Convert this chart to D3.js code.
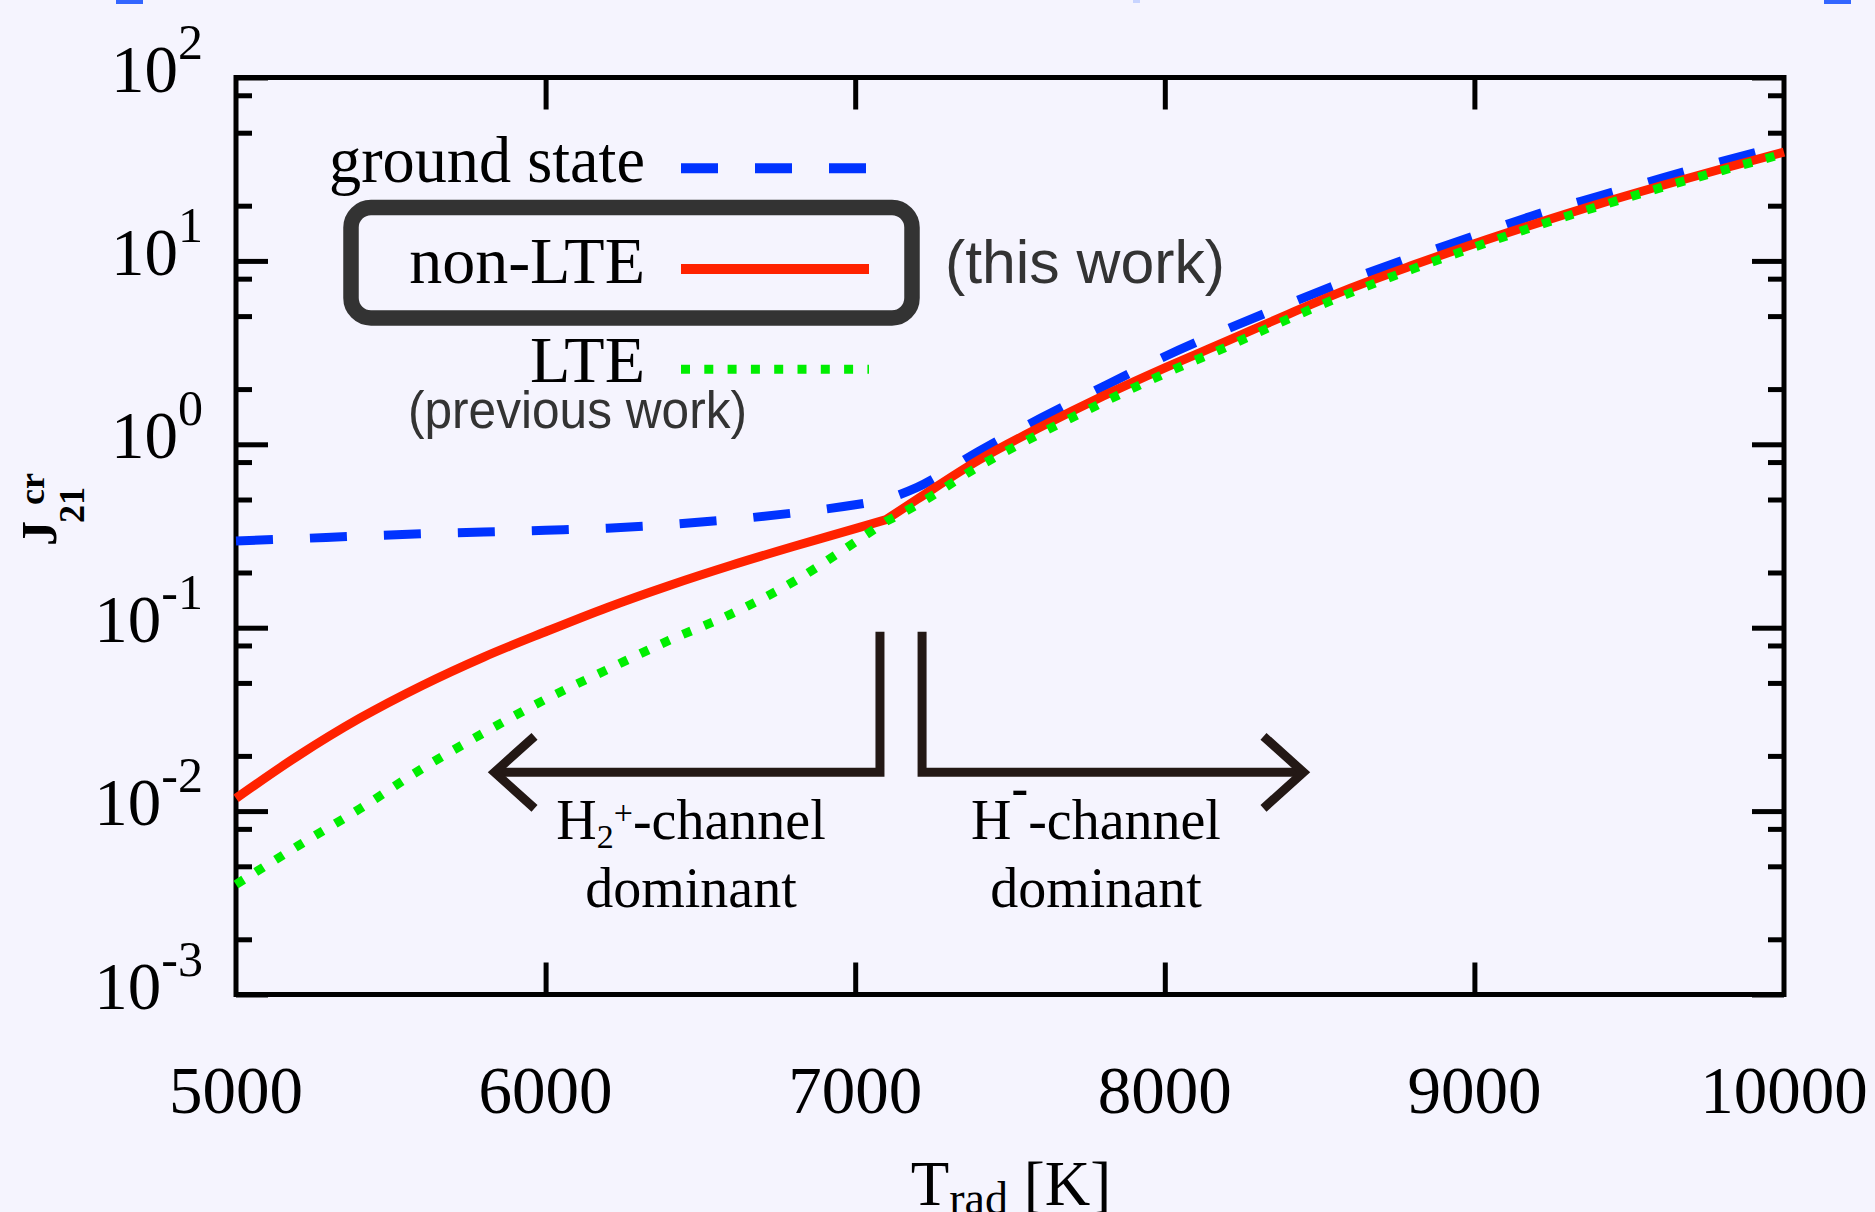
<!DOCTYPE html>
<html>
<head>
<meta charset="utf-8">
<script src="https://cdn.jsdelivr.net/npm/d3@7.9.0/dist/d3.min.js"></script>
<style>
  html, body { margin: 0; padding: 0; background: #f5f4fe; overflow: hidden; }
  svg { display: block; }
  text { font-family: "Liberation Serif", "Times New Roman", serif; fill: #000; }
  .sans { font-family: "Liberation Sans", Arial, sans-serif; fill: #333; }
</style>
</head>
<body>
<svg id="chart" width="1875" height="1212"></svg>
<script>
// radiation temperature [K]
const temps = [5000, 5200, 5400, 5600, 5800, 6000, 6200, 6400, 6600, 6800, 7000, 7100, 7200,
  7400, 7600, 7800, 8000, 8200, 8400, 8600, 8800, 9000, 9200, 9400, 9600, 9800, 10000];

// J21 critical values
const groundState = [0.297, 0.306, 0.316, 0.325, 0.332, 0.340, 0.349, 0.365, 0.389, 0.422, 0.468, 0.500, 0.582,
  0.918, 1.39, 2.06, 3.01, 4.24, 5.83, 7.93, 10.5, 13.7, 17.9, 22.5, 28.1, 34.9, 42.7];
const nonLTE = [0.01175, 0.0200, 0.0321, 0.0483, 0.0692, 0.0951, 0.129, 0.170, 0.219, 0.277, 0.347, 0.389, 0.501,
  0.822, 1.245, 1.83, 2.61, 3.65, 5.13, 7.10, 9.46, 12.4, 16.0, 20.4, 25.6, 31.8, 39.2];
const lte = [0.00398, 0.00646, 0.0103, 0.0170, 0.0267, 0.0407, 0.0592, 0.0855, 0.119, 0.178, 0.293, 0.380, 0.468,
  0.759, 1.15, 1.69, 2.43, 3.40, 4.83, 6.71, 9.02, 11.9, 15.5, 19.8, 25.0, 31.1, 38.4];

const xTicks = [5000, 6000, 7000, 8000, 9000, 10000];
const yExponents = [-3, -2, -1, 0, 1, 2];
const minorMantissas = [2, 5, 8];

// temperature where the curves break, channel boundary bars and arrow tips
const kinkT = 7100;
const channelSplit = [7080, 7216];
const arrowEnds = [5835, 8448];

const svg = d3.select("#chart");
const W = 1875, H = 1212;
const plotLeft = 236, plotRight = 1784, plotTop = 77.5, plotBottom = 994.5;

svg.append("rect").attr("width", W).attr("height", H).attr("fill", "#f5f4fe");

// little blue scraps along the top edge of the original
[[116, 27], [1824, 27]].forEach(([x0, w]) => {
  svg.append("rect").attr("x", x0).attr("y", 0).attr("width", w).attr("height", 4).attr("fill", "#3366ff");
});
svg.append("rect").attr("x", 1133).attr("y", 0).attr("width", 7).attr("height", 3).attr("fill", "#c8d4ff");

const x = d3.scaleLinear().domain([5000, 10000]).range([plotLeft, plotRight]);
const y = d3.scaleLog().domain([1e-3, 1e2]).range([plotBottom, plotTop]);

const majorY = yExponents.map(e => Math.pow(10, e));
const minorY = [];
yExponents.slice(0, -1).forEach(e => minorMantissas.forEach(m => minorY.push(m * Math.pow(10, e))));
const innerX = xTicks.slice(1, -1);

function styleAxis(g) {
  g.select(".domain").remove();
  g.selectAll(".tick line").attr("stroke", "#000").attr("stroke-width", 5);
  g.selectAll(".tick text").remove();
}

// y ticks, both sides
svg.append("g").attr("transform", `translate(${plotLeft},0)`)
  .call(d3.axisLeft(y).tickValues(majorY).tickSize(-32).tickFormat("")).call(styleAxis);
svg.append("g").attr("transform", `translate(${plotLeft},0)`)
  .call(d3.axisLeft(y).tickValues(minorY).tickSize(-16).tickFormat("")).call(styleAxis);
svg.append("g").attr("transform", `translate(${plotRight},0)`)
  .call(d3.axisRight(y).tickValues(majorY).tickSize(-32).tickFormat("")).call(styleAxis);
svg.append("g").attr("transform", `translate(${plotRight},0)`)
  .call(d3.axisRight(y).tickValues(minorY).tickSize(-16).tickFormat("")).call(styleAxis);

// x ticks, top and bottom
svg.append("g").attr("transform", `translate(0,${plotBottom})`)
  .call(d3.axisBottom(x).tickValues(innerX).tickSize(-32).tickFormat("")).call(styleAxis);
svg.append("g").attr("transform", `translate(0,${plotTop})`)
  .call(d3.axisTop(x).tickValues(innerX).tickSize(-32).tickFormat("")).call(styleAxis);

// frame
svg.append("rect")
  .attr("x", plotLeft).attr("y", plotTop)
  .attr("width", plotRight - plotLeft).attr("height", plotBottom - plotTop)
  .attr("fill", "none").attr("stroke", "#000").attr("stroke-width", 5);

// y tick labels 10^n
yExponents.forEach(e => {
  const t = svg.append("text")
    .attr("x", plotLeft - 33)
    .attr("y", y(Math.pow(10, e)) + 14)
    .attr("text-anchor", "end")
    .attr("font-size", 67)
    .text("10");
  t.append("tspan").attr("dy", -33).attr("font-size", 50).text(e);
});

// x tick labels
svg.selectAll(".xlab").data(xTicks).enter().append("text")
  .attr("class", "xlab")
  .attr("x", d => x(d))
  .attr("y", plotBottom + 118)
  .attr("text-anchor", "middle")
  .attr("font-size", 67)
  .text(d => d);

// x axis label (cut off at the bottom edge, as in the original)
const xl = svg.append("text")
  .attr("x", (plotLeft + plotRight) / 2 + 1)
  .attr("y", 1205)
  .attr("text-anchor", "middle")
  .attr("font-size", 63);
xl.append("tspan").text("T");
xl.append("tspan").attr("font-size", 46).attr("dy", 9).text("rad");
xl.append("tspan").attr("dy", -9).text(" [K]");

// y axis label
const yl = svg.append("text")
  .attr("transform", "translate(56,546) rotate(-90)")
  .attr("font-size", 50)
  .attr("font-weight", "bold");
yl.append("tspan").text("J");
yl.append("tspan").attr("font-size", 36).attr("dx", -2).attr("dy", 28).text("21");
yl.append("tspan").attr("font-size", 36).attr("dx", -18).attr("dy", -40).text("cr");

// curves
const series = [
  { name: "ground state", values: groundState, color: "#0033ff", width: 9, dash: "37 37" },
  { name: "non-LTE", values: nonLTE, color: "#ff2200", width: 9, dash: null },
  { name: "LTE", values: lte, color: "#00ee00", width: 9, dash: "9 14.3" }
];

// smooth on each side of the break, sharp corner at the break
const line = d3.line()
  .x(d => x(d[0]))
  .y(d => y(d[1]))
  .curve(d3.curveMonotoneX);

function curvePath(values) {
  const pts = temps.map((t, i) => [t, values[i]]);
  const k = temps.indexOf(kinkT);
  const a = line(pts.slice(0, k + 1));
  const b = line(pts.slice(k)).replace(/^M[^CL]*/, "");
  return a + b;
}

svg.selectAll(".curve").data(series).enter().append("path")
  .attr("class", "curve")
  .attr("d", d => curvePath(d.values))
  .attr("fill", "none")
  .attr("stroke", d => d.color)
  .attr("stroke-width", d => d.width)
  .attr("stroke-dasharray", d => d.dash)
  .attr("stroke-linejoin", "miter");

// legend
const legendY = [168.3, 269, 369.3];
const legendBase = [181.7, 282.7, 381.7];
series.forEach((s, i) => {
  const t = svg.append("text")
    .attr("x", 645)
    .attr("y", legendBase[i])
    .attr("text-anchor", "end")
    .attr("font-size", 66)
    .text(s.name);
  if (i === 0) t.attr("textLength", 316).attr("lengthAdjust", "spacingAndGlyphs");
  svg.append("line")
    .attr("x1", 681).attr("x2", 869)
    .attr("y1", legendY[i]).attr("y2", legendY[i])
    .attr("stroke", s.color)
    .attr("stroke-width", i === 2 ? 9 : 10)
    .attr("stroke-dasharray", s.dash);
});

svg.append("rect")
  .attr("x", 351).attr("y", 207.5)
  .attr("width", 561).attr("height", 110.5)
  .attr("rx", 20).attr("ry", 20)
  .attr("fill", "none")
  .attr("stroke", "#333")
  .attr("stroke-width", 15.5);

svg.append("text").attr("class", "sans")
  .attr("x", 945).attr("y", 283)
  .attr("font-size", 62)
  .attr("textLength", 280)
  .attr("lengthAdjust", "spacingAndGlyphs")
  .text("(this work)");
svg.append("text").attr("class", "sans")
  .attr("x", 408).attr("y", 428)
  .attr("font-size", 51)
  .attr("textLength", 339)
  .attr("lengthAdjust", "spacingAndGlyphs")
  .text("(previous work)");

// channel arrows
const arrowColor = "#231815";
const barTop = 631.7, arrowY = 772.3;
const ak = svg.append("g")
  .attr("fill", "none")
  .attr("stroke", arrowColor)
  .attr("stroke-width", 9);

ak.append("path")
  .attr("d", `M${x(channelSplit[0])},${barTop}V${arrowY}H${x(arrowEnds[0])}`);
ak.append("path")
  .attr("d", `M${x(arrowEnds[0]) + 40},${arrowY - 36}L${x(arrowEnds[0])},${arrowY}L${x(arrowEnds[0]) + 40},${arrowY + 36}`);
ak.append("path")
  .attr("d", `M${x(channelSplit[1])},${barTop}V${arrowY}H${x(arrowEnds[1])}`);
ak.append("path")
  .attr("d", `M${x(arrowEnds[1]) - 40},${arrowY - 36}L${x(arrowEnds[1])},${arrowY}L${x(arrowEnds[1]) - 40},${arrowY + 36}`);

const leftMid = 691, rightMid = 1096;
const h2 = svg.append("text")
  .attr("x", leftMid).attr("y", 839.3)
  .attr("text-anchor", "middle")
  .attr("font-size", 56);
h2.append("tspan").text("H");
h2.append("tspan").attr("font-size", 34).attr("dy", 9).text("2");
h2.append("tspan").attr("font-size", 34).attr("dy", -24).text("+");
h2.append("tspan").attr("dy", 15).text("-channel");

const hm = svg.append("text")
  .attr("x", rightMid).attr("y", 839.3)
  .attr("text-anchor", "middle")
  .attr("font-size", 56);
hm.append("tspan").text("H");
hm.append("tspan").attr("font-size", 50).attr("font-weight", "bold").attr("dy", -34).text("-");
hm.append("tspan").attr("dy", 34).text("-channel");

[leftMid, rightMid].forEach(cx => {
  svg.append("text")
    .attr("x", cx).attr("y", 906.7)
    .attr("text-anchor", "middle")
    .attr("font-size", 56)
    .text("dominant");
});
</script>
</body>
</html>
